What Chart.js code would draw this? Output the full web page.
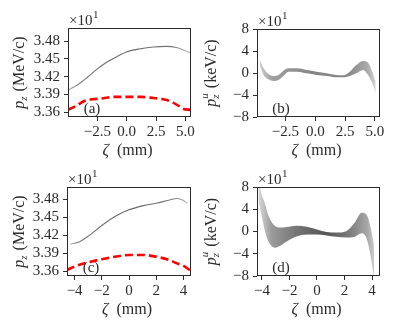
<!DOCTYPE html>
<html>
<head>
<meta charset="utf-8">
<script src="https://cdn.jsdelivr.net/npm/chart.js@4.4.0/dist/chart.umd.min.js"></script>
<style>
  body { margin: 0; background: #fff; }
  #wrap { position: relative; width: 399px; height: 332px; }
  canvas { position: absolute; }
</style>
</head>
<body>
<div id="wrap">
  <canvas id="pa" width="200" height="166" style="left:0;top:0"></canvas>
  <canvas id="pb" width="199" height="166" style="left:200px;top:0"></canvas>
  <canvas id="pc" width="200" height="166" style="left:0;top:166px"></canvas>
  <canvas id="pd" width="199" height="166" style="left:200px;top:166px"></canvas>
</div>
<script>
// panel (a): pz vs zeta, gray line + red dashed
const zetaGrayA = [-5.0, -4.2, -3.34, -2.5, -1.64, -0.81, 0.03, 1.16, 2.28, 3.4, 4.24, 4.95, 5.45];
const pzGrayA   = [3.397, 3.406, 3.419, 3.433, 3.445, 3.454, 3.462, 3.467, 3.470, 3.471, 3.469, 3.464, 3.460];
const zetaRedA  = [-5.0, -4.3, -3.6, -2.9, -2.2, -1.07, 0.03, 1.16, 2.28, 3.1, 3.8, 4.4, 4.8, 5.45];
const pzRedA    = [3.364, 3.371, 3.379, 3.382, 3.383, 3.386, 3.386, 3.386, 3.384, 3.382, 3.378, 3.371, 3.366, 3.364];

// panel (b): pz^u band (upper / lower edges)
const zetaB  = [-4.67, -4.33, -3.92, -3.5, -3.08, -2.67, -2.25, -1.56, -0.72, 0.11, 0.94, 1.78, 2.33, 2.89, 3.44, 4.0, 4.42, 4.78, 5.06];
const upperB = [2.48, 0.85, -0.18, -0.55, -0.36, 0.42, 0.85, 0.85, 0.55, 0.24, -0.06, -0.36, -0.42, 0.24, 1.45, 2.18, 1.88, 0.24, -1.58];
const lowerB = [1.45, -0.36, -1.15, -1.45, -1.27, -0.55, 0.24, 0.24, -0.06, -0.36, -0.55, -0.79, -0.79, -0.55, -0.06, 0.55, -0.36, -1.88, -3.7];

// panel (c)
const zetaGrayC = [-4.3, -3.63, -3.01, -2.0, -1.04, 0, 1.06, 2.0, 2.91, 3.53, 3.98, 4.27];
const pzGrayC   = [3.405, 3.409, 3.418, 3.436, 3.451, 3.462, 3.469, 3.473, 3.478, 3.481, 3.478, 3.473];
const zetaRedC  = [-4.56, -3.88, -3.14, -2.0, -1.04, 0, 1.06, 2.0, 2.91, 3.53, 4.02, 4.56];
const pzRedC    = [3.362, 3.369, 3.374, 3.380, 3.384, 3.387, 3.387, 3.384, 3.379, 3.373, 3.369, 3.360];

// panel (d)
const zetaD  = [-4.25, -4.0, -3.78, -3.55, -3.3, -3.05, -2.7, -2.2, -1.5, -0.75, 0, 0.7, 1.4, 2.15, 2.75, 3.25, 3.6, 3.9, 4.15];
const upperD = [9.0, 6.5, 5.0, 3.0, 1.7, 1.0, 0.7, 0.8, 1.05, 0.85, 0.35, -0.1, -0.2, 0.1, 1.6, 3.35, 3.0, 0.7, -2.6];
const lowerD = [5.5, 2.5, 0.0, -1.7, -2.6, -2.9, -2.6, -1.8, -0.9, -0.55, -0.55, -0.7, -0.95, -1.1, -0.95, -0.3, -1.2, -4.4, -8.5];

// tick labels
const xTicksAB = [-2.5, 0, 2.5, 5.0];
const xTicksCD = [-4, -2, 0, 2, 4];
const yTicksPz = [3.36, 3.39, 3.42, 3.45, 3.48];
const yTicksPu = [-8, -4, 0, 4, 8];

const FONT = "'Liberation Serif', 'DejaVu Serif', serif";
const INK = '#2a2a2a';

function pts(xs, ys) {
    return xs.map((x, i) => ({ x: x, y: ys[i] }));
}
function fmt(dec) {
    return (v) => v.toFixed(dec).replace('-', '\u2212');
}

function hGrad(stops) {
    return (ctx) => {
        const chart = ctx.chart;
        const a = chart.chartArea;
        if (!a) return '#888';
        const g = chart.ctx.createLinearGradient(a.left, 0, a.right, 0);
        stops.forEach(s => g.addColorStop(s[0], s[1]));
        return g;
    };
}

// draws frame, offset text, panel label and axis titles
const deco = {
    id: 'deco',
    afterDraw(chart, args, o) {
        const ctx = chart.ctx;
        const a = chart.chartArea;
        ctx.save();
        ctx.strokeStyle = INK;
        ctx.lineWidth = 1;
        ctx.strokeRect(a.left + 0.5, a.top + 0.5, a.right - a.left - 1, a.bottom - a.top - 1);

        ctx.fillStyle = INK;
        ctx.textBaseline = 'alphabetic';
        // x10^1
        ctx.font = '15px ' + FONT;
        ctx.textAlign = 'left';
        ctx.fillText('\u00d710', a.left + 1, a.top - 3);
        const w10 = ctx.measureText('\u00d710').width;
        ctx.font = '11px ' + FONT;
        ctx.fillText('1', a.left + 1 + w10 + 0.5, a.top - 10);

        // panel label
        ctx.font = '15px ' + FONT;
        ctx.textAlign = 'center';
        ctx.fillText(o.label, a.left + 24, a.bottom - 4);

        // x title: zeta (mm)
        const cx = (a.left + a.right) / 2 - 2;
        const by = a.bottom + 38;
        ctx.font = 'italic 16px ' + FONT;
        const wz = ctx.measureText('\u03b6').width;
        ctx.font = '16px ' + FONT;
        const wm = ctx.measureText('  (mm)').width;
        let x0 = cx - (wz + wm) / 2;
        ctx.textAlign = 'left';
        ctx.font = 'italic 16px ' + FONT;
        ctx.fillText('\u03b6', x0, by);
        ctx.font = '16px ' + FONT;
        ctx.fillText('  (mm)', x0 + wz, by);

        // y title, rotated
        ctx.translate(a.left - o.yTitleOff, (a.top + a.bottom) / 2);
        ctx.rotate(-Math.PI / 2);
        ctx.font = 'italic 16px ' + FONT;
        const wp = ctx.measureText('p').width;
        ctx.font = 'italic 11px ' + FONT;
        const ws = Math.max(ctx.measureText('z').width, o.sup ? ctx.measureText(o.sup).width : 0);
        ctx.font = '16px ' + FONT;
        const wu = ctx.measureText(' (' + o.unit + ')').width;
        const tot = wp + ws + 1 + wu;
        x0 = -tot / 2;
        ctx.font = 'italic 16px ' + FONT;
        ctx.fillText('p', x0, 5);
        ctx.font = 'italic 11px ' + FONT;
        ctx.fillText('z', x0 + wp, 8);
        if (o.sup) ctx.fillText(o.sup, x0 + wp, -3);
        ctx.font = '16px ' + FONT;
        ctx.fillText(' (' + o.unit + ')', x0 + wp + ws + 1, 5);
        ctx.restore();
    }
};

function makePanel(id, p) {
    const tickFont = { family: FONT, size: 15 };
    new Chart(document.getElementById(id), {
        type: 'line',
        data: { datasets: p.datasets },
        options: {
            responsive: false,
            animation: false,
            devicePixelRatio: 1,
            layout: { padding: { left: 0, right: p.padRight, top: p.padTop, bottom: 0 } },
            elements: { point: { radius: 0 }, line: { cubicInterpolationMode: 'monotone' } },
            plugins: {
                legend: { display: false },
                tooltip: { enabled: false },
                deco: p.deco
            },
            scales: {
                x: {
                    type: 'linear',
                    min: p.xMin, max: p.xMax,
                    afterBuildTicks: (s) => { s.ticks = p.xTicks.map(v => ({ value: v })); },
                    afterFit: (s) => { s.height = p.xH; },
                    ticks: { font: tickFont, color: INK, padding: 2, maxRotation: 0, autoSkip: false, callback: fmt(p.xDec) },
                    grid: { drawOnChartArea: false, drawTicks: true, tickLength: 4, color: INK },
                    border: { display: false }
                },
                y: {
                    type: 'linear',
                    min: p.yMin, max: p.yMax,
                    afterBuildTicks: (s) => { s.ticks = p.yTicks.map(v => ({ value: v })); },
                    afterFit: (s) => { s.width = p.yW; },
                    ticks: { font: tickFont, color: INK, padding: 4, autoSkip: false, callback: fmt(p.yDec) },
                    grid: { drawOnChartArea: false, drawTicks: true, tickLength: 4, color: INK },
                    border: { display: false }
                }
            }
        },
        plugins: [deco]
    });
}

const grayLine = hGrad([[0, '#aaa'], [0.12, '#777'], [0.5, '#666'], [0.85, '#777'], [1, '#c4c4c4']]);

function pzSets(zg, pg, zr, pr) {
    return [
        { data: pts(zg, pg), borderColor: grayLine, borderWidth: 1.1, fill: false },
        { data: pts(zr, pr), borderColor: '#ff0000', borderWidth: 2.6, borderDash: [8, 4], fill: false }
    ];
}
function bandSets(z, lo, up, stops) {
    return [
        { data: pts(z, lo), borderWidth: 0, fill: false },
        { data: pts(z, up), borderWidth: 0, fill: '-1', backgroundColor: hGrad(stops) }
    ];
}

makePanel('pa', {
    datasets: pzSets(zetaGrayA, pzGrayA, zetaRedA, pzRedA),
    xMin: -5.0, xMax: 5.48, yMin: 3.352, yMax: 3.502,
    xTicks: xTicksAB, yTicks: yTicksPz, xDec: 1, yDec: 2,
    yW: 68, xH: 49, padRight: 9, padTop: 28,
    deco: { label: '(a)', unit: 'MeV/c', sup: null, yTitleOff: 49 }
});
makePanel('pb', {
    datasets: bandSets(zetaB, lowerB, upperB, [[0, '#d8d8d8'], [0.12, '#a0a0a0'], [0.45, '#858585'], [0.75, '#8a8a8a'], [0.9, '#aaaaaa'], [1, '#eeeeee']]),
    xMin: -4.88, xMax: 5.42, yMin: -8, yMax: 8,
    xTicks: xTicksAB, yTicks: yTicksPu, xDec: 1, yDec: 0,
    yW: 57, xH: 49, padRight: 19, padTop: 29,
    deco: { label: '(b)', unit: 'keV/c', sup: 'u', yTitleOff: 46 }
});
makePanel('pc', {
    datasets: pzSets(zetaGrayC, pzGrayC, zetaRedC, pzRedC),
    xMin: -4.56, xMax: 4.56, yMin: 3.352, yMax: 3.50,
    xTicks: xTicksCD, yTicks: yTicksPz, xDec: 0, yDec: 2,
    yW: 67, xH: 56, padRight: 9, padTop: 21,
    deco: { label: '(c)', unit: 'MeV/c', sup: null, yTitleOff: 48 }
});
makePanel('pd', {
    datasets: bandSets(zetaD, lowerD, upperD, [[0, '#e0e0e0'], [0.12, '#9a9a9a'], [0.35, '#707070'], [0.55, '#555555'], [0.75, '#7a7a7a'], [0.9, '#a8a8a8'], [1, '#eeeeee']]),
    xMin: -4.36, xMax: 4.58, yMin: -8, yMax: 8,
    xTicks: xTicksCD, yTicks: yTicksPu, xDec: 0, yDec: 0,
    yW: 57, xH: 56, padRight: 19, padTop: 21,
    deco: { label: '(d)', unit: 'keV/c', sup: 'u', yTitleOff: 46 }
});
</script>
</body>
</html>
